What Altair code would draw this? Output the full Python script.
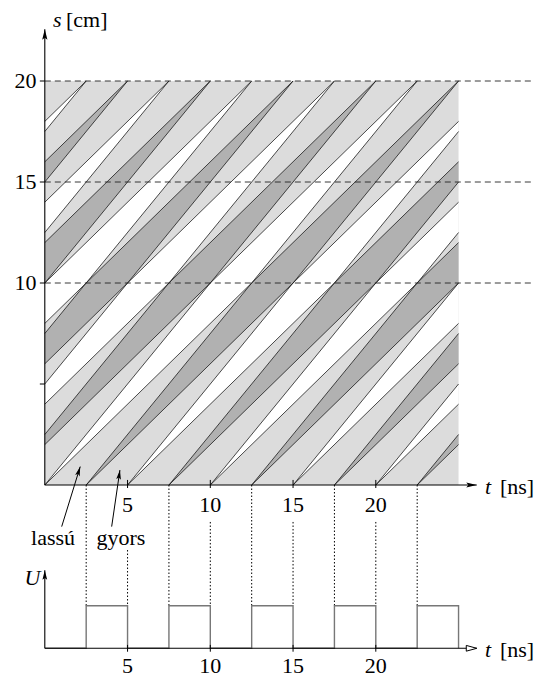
import math
import altair as alt
import pandas as pd

# ---------------- data ----------------
pulse_on = [2.5, 7.5, 12.5, 17.5, 22.5]      # U switched on  [ns]
pulse_off = [5.0, 10.0, 15.0, 20.0, 25.0]    # U switched off [ns]
v_slow = 0.8    # cm/ns  (lassú)
v_fast = 1.0    # cm/ns  (gyors)
t_end = 25.0    # ns, right edge of shaded box
s_end = 20.0    # cm, top edge of shaded box
t_ticks = [5, 10, 15, 20]
s_ticks = [5, 10, 15, 20]
s_tick_labels = ["", "10", "15", "20"]
s_dashed = [10, 15, 20]

# ---------------- page geometry ----------------
PX_T, PX_S, PX_U = 16.55, 20.2, 42.6
W, H = 526, 669
X0 = -36.8 / PX_T
X1 = X0 + W / PX_T
S1 = (485 - 8) / PX_S
S0 = S1 - H / PX_S
U1 = (648.3 - 8) / PX_U
U0 = U1 - H / PX_U


def s_of_u(u):
    return (485 - (648.3 - u * PX_U)) / PX_S


xsc = alt.Scale(domain=[X0, X1], nice=False, zero=False)
ssc = alt.Scale(domain=[S0, S1], nice=False, zero=False)
usc = alt.Scale(domain=[U0, U1], nice=False, zero=False)


def X(f="t"):
    return alt.X(f"{f}:Q", scale=xsc, axis=None)


def YS(f="s"):
    return alt.Y(f"{f}:Q", scale=ssc, axis=None)


def YU(f="u"):
    return alt.Y(f"{f}:Q", scale=usc, axis=None)


# ---------------- emission intervals (periodic) ----------------
period = pulse_on[1] - pulse_on[0]
dur = pulse_off[0] - pulse_on[0]
fast_iv = [(a, b) for a, b in zip(pulse_on, pulse_off)]
fast_iv += [(pulse_on[0] - period * m, pulse_off[0] - period * m) for m in range(1, 8)]
fast_iv = sorted(fast_iv)
slow_iv = [(b, b + period - dur) for a, b in fast_iv]
slow_iv += [(fast_iv[0][0] - (period - dur), fast_iv[0][0])]
slow_iv = sorted(slow_iv)


def clip(poly, a, b, c):
    out = []
    n = len(poly)
    for i in range(n):
        P, Q = poly[i], poly[(i + 1) % n]
        fp = a * P[0] + b * P[1] - c
        fq = a * Q[0] + b * Q[1] - c
        if fp >= 0:
            out.append(P)
        if (fp >= 0) != (fq >= 0):
            r = fp / (fp - fq)
            out.append((P[0] + r * (Q[0] - P[0]), P[1] + r * (Q[1] - P[1])))
    return out


def band(poly, v, lo, hi):
    if len(poly) < 3:
        return poly
    poly = clip(poly, 1.0, -1.0 / v, lo)
    if len(poly) < 3:
        return poly
    return clip(poly, -1.0, 1.0 / v, -hi)


def area(poly):
    n = len(poly)
    return 0.5 * abs(sum(poly[i][0] * poly[(i + 1) % n][1] - poly[(i + 1) % n][0] * poly[i][1] for i in range(n)))


def to_rows(poly, pid):
    xs = sorted(set(round(p[0], 9) for p in poly))
    rows = []
    n = len(poly)
    for x in xs:
        ys = []
        for i in range(n):
            (x1, y1), (x2, y2) = poly[i], poly[(i + 1) % n]
            if min(x1, x2) - 1e-7 <= x <= max(x1, x2) + 1e-7:
                if abs(x2 - x1) < 1e-9:
                    ys += [y1, y2]
                else:
                    ys.append(y1 + (y2 - y1) * (x - x1) / (x2 - x1))
        rows.append({"t": x, "lo": min(ys), "hi": max(ys), "pid": pid})
    return rows


box = [(0.0, 0.0), (t_end, 0.0), (t_end, s_end), (0.0, s_end)]
dark_rows, white_rows = [], []
pid = 0
for (sl, sh) in slow_iv:
    for (fl, fh) in fast_iv:
        p = band(band(box, v_slow, sl, sh), v_fast, fl, fh)
        if len(p) >= 3 and area(p) > 1e-6:
            dark_rows += to_rows(p, pid)
            pid += 1
for (fl, fh) in fast_iv:
    for (sl, sh) in slow_iv:
        p = band(band(box, v_slow, fl, fh), v_fast, sl, sh)
        if len(p) >= 3 and area(p) > 1e-6:
            white_rows += to_rows(p, pid)
            pid += 1

# boundary world-lines
taus = sorted(set([a for a, b in fast_iv] + [b for a, b in fast_iv] + [a for a, b in slow_iv] + [b for a, b in slow_iv]))
line_rows = []
for tau in taus:
    for v in (v_slow, v_fast):
        ta = max(0.0, tau)
        sa = v * (ta - tau)
        if ta >= t_end or sa >= s_end:
            continue
        tb = min(t_end, tau + s_end / v)
        sb = v * (tb - tau)
        line_rows.append({"t": ta, "s": sa, "t2": tb, "s2": sb})

df_box = pd.DataFrame([{"t": 0.0, "t2": t_end, "s": 0.0, "s2": s_end}])
df_dark = pd.DataFrame(dark_rows)
df_white = pd.DataFrame(white_rows)
df_lines = pd.DataFrame(line_rows)

FONT = '"Liberation Serif", "DejaVu Serif", "Times New Roman", serif'
FS = 22
ARROW = "M0,0L0.5,2L0,1.6L-0.5,2Z"
ARROW_OPEN = "M0,0L0.55,2L-0.55,2Z"

# ---------------- top (s–t diagram) ----------------
l_box = alt.Chart(df_box).mark_rect(color="#dcdcdc").encode(x=X(), x2="t2:Q", y=YS(), y2="s2:Q")
l_white = alt.Chart(df_white).mark_area(color="white").encode(x=X(), y=YS("hi"), y2="lo:Q", detail="pid:N")
l_dark = alt.Chart(df_dark).mark_area(color="#b1b1b1").encode(x=X(), y=YS("hi"), y2="lo:Q", detail="pid:N")
l_lines = alt.Chart(df_lines).mark_rule(color="#111", strokeWidth=0.75).encode(
    x=X(), x2="t2:Q", y=YS(), y2="s2:Q")

df_dash = pd.DataFrame({"t": [0.0] * len(s_dashed), "t2": [29.5] * len(s_dashed), "s": s_dashed})
l_dash = alt.Chart(df_dash).mark_rule(color="#222", strokeWidth=0.9, strokeDash=[6, 4]).encode(
    x=X(), x2="t2:Q", y=YS())

df_axes_top = pd.DataFrame([
    {"t": 0.0, "t2": 0.0, "s": 0.0, "s2": 22.56},
    {"t": 0.0, "t2": 26.1, "s": 0.0, "s2": 0.0},
])
l_axes_top = alt.Chart(df_axes_top).mark_rule(color="black", strokeWidth=1.1).encode(
    x=X(), x2="t2:Q", y=YS(), y2="s2:Q")

tick_rows = [{"t": -0.3, "t2": 0.0, "s": s, "s2": s} for s in s_ticks]
tick_rows += [{"t": t, "t2": t, "s": -0.15, "s2": 0.25} for t in t_ticks]
l_ticks_top = alt.Chart(pd.DataFrame(tick_rows)).mark_rule(color="black", strokeWidth=1).encode(
    x=X(), x2="t2:Q", y=YS(), y2="s2:Q")

# dotted guides from the upper axis down to the pulses
s_ptop = s_of_u(1.0)
dot_rows = [{"t": t, "s": 0.0, "s2": s_ptop} for t in pulse_on]
dot_rows += [{"t": t, "s": (-3.22 if t == 5 else -1.83), "s2": s_ptop} for t in t_ticks]
l_dots = alt.Chart(pd.DataFrame(dot_rows)).mark_rule(color="black", strokeWidth=1, strokeDash=[1.5, 2]).encode(
    x=X(), y=YS(), y2="s2:Q")

# annotation arrows (lassú / gyors)
ann = pd.DataFrame([
    {"t": 1.02, "s": -2.06, "t2": 2.14, "s2": 0.91},
    {"t": 4.04, "s": -2.06, "t2": 4.54, "s2": 0.74},
])
ann["ang"] = [math.degrees(math.atan2((r.t2 - r.t) * PX_T, (r.s2 - r.s) * PX_S)) for r in ann.itertuples()]
l_ann = alt.Chart(ann).mark_rule(color="black", strokeWidth=1).encode(x=X(), x2="t2:Q", y=YS(), y2="s2:Q")
l_ann_head = alt.Chart(ann).mark_point(shape=ARROW, filled=True, color="black", size=90, opacity=1).encode(
    x=X("t2"), y=YS("s2"), angle=alt.Angle("ang:Q", scale=None))

heads_top = pd.DataFrame([
    {"t": 0.0, "s": 22.56, "ang": 0},
    {"t": 26.1, "s": 0.0, "ang": 90},
])
l_heads_top = alt.Chart(heads_top).mark_point(shape=ARROW, filled=True, color="black", size=110, opacity=1).encode(
    x=X(), y=YS(), angle=alt.Angle("ang:Q", scale=None))

df_ylab = pd.DataFrame({"t": [-0.5] * len(s_ticks), "s": s_ticks, "txt": s_tick_labels})
l_ylab = alt.Chart(df_ylab).mark_text(font=FONT, fontSize=FS, align="right", baseline="middle", color="black").encode(
    x=X(), y=YS(), text="txt:N")
df_xlab = pd.DataFrame({"t": t_ticks, "s": [-0.99] * len(t_ticks), "txt": [str(t) for t in t_ticks]})
l_xlab = alt.Chart(df_xlab).mark_text(font=FONT, fontSize=FS, align="center", baseline="middle", color="black").encode(
    x=X(), y=YS(), text="txt:N")

df_it_top = pd.DataFrame([
    {"t": 0.5, "s": 23.02, "txt": "s"},
    {"t": 26.6, "s": -0.1, "txt": "t"},
])
l_it_top = alt.Chart(df_it_top).mark_text(font=FONT, fontSize=FS, fontStyle="italic", align="left",
                                          baseline="middle", color="black").encode(x=X(), y=YS(), text="txt:N")
df_up_top = pd.DataFrame([
    {"t": 1.28, "s": 23.02, "txt": "[cm]"},
    {"t": 27.5, "s": -0.1, "txt": "[ns]"},
])
l_up_top = alt.Chart(df_up_top).mark_text(font=FONT, fontSize=FS, align="left",
                                          baseline="middle", color="black").encode(x=X(), y=YS(), text="txt:N")
df_names = pd.DataFrame([
    {"t": 0.5, "s": -2.97, "txt": "lassú"},
    {"t": 4.6, "s": -2.97, "txt": "gyors"},
])
l_names = alt.Chart(df_names).mark_text(font=FONT, fontSize=FS, align="center",
                                        baseline="alphabetic", color="black").encode(x=X(), y=YS(), text="txt:N")

top = alt.layer(l_box, l_white, l_dark, l_lines, l_dash, l_dots, l_axes_top, l_ticks_top,
                l_heads_top, l_ann, l_ann_head, l_ylab, l_xlab, l_it_top, l_up_top, l_names)

# ---------------- bottom (U pulses) ----------------
pts = [(0.0, 0.0)]
for a, b in zip(pulse_on, pulse_off):
    pts += [(a, 0.0), (a, 1.0), (b, 1.0), (b, 0.0)]
df_pulse = pd.DataFrame({"t": [p[0] for p in pts], "u": [p[1] for p in pts], "i": range(len(pts))})
l_pulse = alt.Chart(df_pulse).mark_line(color="#777", strokeWidth=1.4).encode(x=X(), y=YU(), order="i:Q")

df_axes_bot = pd.DataFrame([
    {"t": 0.0, "t2": 26.1, "u": 0.0, "u2": 0.0},
    {"t": 0.0, "t2": 0.0, "u": 0.0, "u2": 1.83},
])
l_axes_bot = alt.Chart(df_axes_bot).mark_rule(color="black", strokeWidth=1.1).encode(
    x=X(), x2="t2:Q", y=YU(), y2="u2:Q")
df_ticks_bot = pd.DataFrame({"t": t_ticks, "u": [-0.08] * 4, "u2": [0.08] * 4})
l_ticks_bot = alt.Chart(df_ticks_bot).mark_rule(color="black", strokeWidth=1).encode(x=X(), y=YU(), y2="u2:Q")

l_head_u = alt.Chart(pd.DataFrame([{"t": 0.0, "u": 1.83, "ang": 0}])).mark_point(
    shape=ARROW, filled=True, color="black", size=90, opacity=1).encode(
    x=X(), y=YU(), angle=alt.Angle("ang:Q", scale=None))
l_head_tb = alt.Chart(pd.DataFrame([{"t": 26.1, "u": 0.0, "ang": 90}])).mark_point(
    shape=ARROW_OPEN, filled=True, fill="white", stroke="black", strokeWidth=1, size=110, opacity=1).encode(
    x=X(), y=YU(), angle=alt.Angle("ang:Q", scale=None))

df_xlab_b = pd.DataFrame({"t": t_ticks, "u": [-0.42] * len(t_ticks), "txt": [str(t) for t in t_ticks]})
l_xlab_b = alt.Chart(df_xlab_b).mark_text(font=FONT, fontSize=FS, align="center", baseline="middle", color="black").encode(
    x=X(), y=YU(), text="txt:N")
l_it_b1 = alt.Chart(pd.DataFrame([{"t": -0.74, "u": 1.66, "txt": "U"}])).mark_text(
    font=FONT, fontSize=FS, fontStyle="italic", align="center", baseline="middle", color="black").encode(
    x=X(), y=YU(), text="txt:N")
l_it_b2 = alt.Chart(pd.DataFrame([{"t": 26.6, "u": -0.04, "txt": "t"}])).mark_text(
    font=FONT, fontSize=FS, fontStyle="italic", align="left", baseline="middle", color="black").encode(
    x=X(), y=YU(), text="txt:N")
l_up_b = alt.Chart(pd.DataFrame([{"t": 27.5, "u": -0.04, "txt": "[ns]"}])).mark_text(
    font=FONT, fontSize=FS, align="left", baseline="middle", color="black").encode(
    x=X(), y=YU(), text="txt:N")

bottom = alt.layer(l_pulse, l_axes_bot, l_ticks_bot, l_head_u, l_head_tb, l_xlab_b, l_it_b1, l_it_b2, l_up_b)

chart = (
    alt.layer(top, bottom)
    .resolve_scale(y="independent")
    .properties(width=W, height=H, padding=0, autosize=alt.AutoSizeParams(type="none"))
    .configure_view(stroke=None)
)

chart.save("out.html", embed_options={"renderer": "svg", "actions": False})
